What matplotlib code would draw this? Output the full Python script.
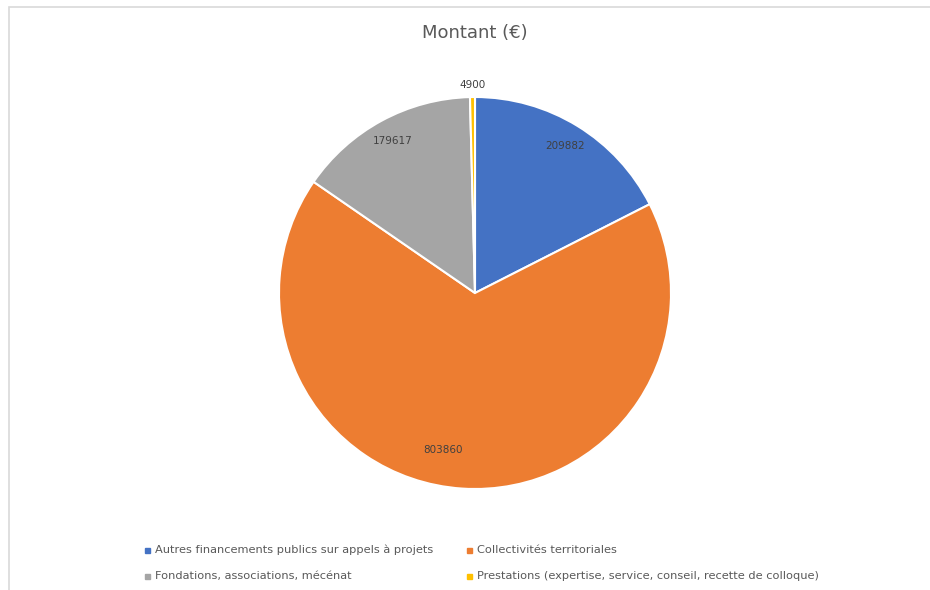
import numpy as np
import matplotlib.pyplot as plt
from matplotlib.patches import Rectangle

# -----------------------------
# Data
# -----------------------------
categories = [
    'Autres financements publics sur appels à projets',
    'Collectivités territoriales',
    'Fondations, associations, mécénat',
    'Prestations (expertise, service, conseil, recette de colloque)',
]
values = [209882, 803860, 179617, 4900]
colors = ['#4472C4', '#ED7D31', '#A5A5A5', '#FFC000']

# label placement (radius factor, angle shift in degrees) - Excel "best fit"
label_r = [0.88, 0.82, 0.88, 1.06]
label_shift = [0, -7.7, 0, 0]

plt.rcParams['font.family'] = ['Liberation Sans Narrow', 'DejaVu Sans']

fig = plt.figure(figsize=(9.3, 5.9), dpi=100)
# chart area border (only top and left visible in the crop)
fig.patches.append(Rectangle((9 / 930, -0.1), 1.2, 1.1 - 7 / 590, transform=fig.transFigure,
                             fill=False, edgecolor='#D9D9D9', lw=1.2))

# pie centre ~ (475, 293) px, radius ~ 196 px
R = 196
ax = fig.add_axes([(475 - R) / 930, 1 - (293 + R) / 590, 2 * R / 930, 2 * R / 590])
wedges, _ = ax.pie(values, colors=colors, startangle=90, counterclock=False,
                   wedgeprops=dict(edgecolor='white', linewidth=1.5))
ax.set_xlim(-1, 1)
ax.set_ylim(-1, 1)

for w, v, r, s in zip(wedges, values, label_r, label_shift):
    th = np.deg2rad((w.theta1 + w.theta2) / 2 + s)
    ax.text(r * np.cos(th), r * np.sin(th), str(v), ha='center', va='center',
            fontsize=7.5, color='#404040')

fig.text(475 / 930, 1 - 33 / 590, 'Montant (€)', ha='center', va='center',
         fontsize=13, color='#595959')

# legend
pos = [(147, 550), (469, 550), (147, 576), (469, 576)]
for (x, y), c, lab in zip(pos, colors, categories):
    fig.patches.append(Rectangle((x / 930 - 2.5 / 930, 1 - (y + 2.5) / 590), 5 / 930, 5 / 590,
                                 transform=fig.transFigure, color=c))
    fig.text((x + 8) / 930, 1 - y / 590, lab, ha='left', va='center',
             fontsize=8.2, color='#595959')

fig.savefig('out.png', dpi=100, facecolor='white')
